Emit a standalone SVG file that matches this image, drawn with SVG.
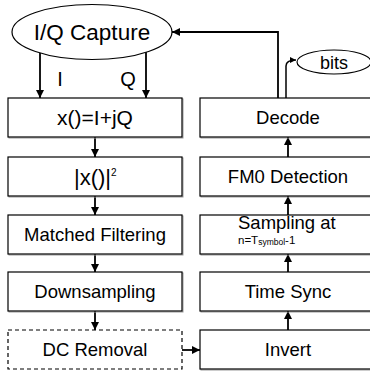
<svg xmlns="http://www.w3.org/2000/svg" width="370" height="372" viewBox="0 0 370 372">
<defs>
<marker id="ah" viewBox="0 0 10 10" refX="10" refY="5" markerWidth="4.5" markerHeight="4.5" orient="auto" markerUnits="strokeWidth">
<path d="M0,0 L10,5 L0,10 z" fill="#000"/>
</marker>
<marker id="ahs" viewBox="0 0 10 10" refX="10" refY="5" markerWidth="4" markerHeight="4" orient="auto" markerUnits="strokeWidth">
<path d="M0,0 L10,5 L0,10 z" fill="#000"/>
</marker>
</defs>
<style>
.box{fill:#fff;stroke:#000;stroke-width:1.2}
.sh{fill:none;stroke:#999;stroke-width:1}
.dash{fill:#fff;stroke:#000;stroke-width:1.2;stroke-dasharray:4,3}
.t{font-family:"Liberation Sans",Arial,sans-serif;font-size:18.5px;text-anchor:middle;fill:#000}
.f{font-family:"Liberation Sans",Arial,sans-serif;font-size:21px;text-anchor:middle;fill:#000}
.s{font-family:"Liberation Sans",Arial,sans-serif;text-anchor:start;fill:#000}
.c{fill:none;stroke:#000;stroke-width:1.8}
</style>
<rect width="370" height="372" fill="#fff"/>
<g id="connectors">
<line class="c" x1="40" y1="53" x2="40" y2="98" marker-end="url(#ah)"/>
<line class="c" x1="146" y1="52" x2="146" y2="98" marker-end="url(#ah)"/>
<line class="c" x1="95" y1="137" x2="95" y2="157" marker-end="url(#ah)"/>
<line class="c" x1="95" y1="196" x2="95" y2="215" marker-end="url(#ah)"/>
<line class="c" x1="95" y1="254" x2="95" y2="272" marker-end="url(#ah)"/>
<line class="c" x1="95" y1="311" x2="95" y2="330" marker-end="url(#ah)"/>
<line class="c" x1="182" y1="350" x2="200" y2="350" marker-end="url(#ah)"/>
<line class="c" x1="288" y1="330" x2="288" y2="311" marker-end="url(#ah)"/>
<line class="c" x1="288" y1="272" x2="288" y2="254" marker-end="url(#ah)"/>
<line class="c" x1="288" y1="215" x2="288" y2="196" marker-end="url(#ah)"/>
<line class="c" x1="288" y1="157" x2="288" y2="137" marker-end="url(#ah)"/>
<polyline class="c" points="278,99 278,32 172,32" marker-end="url(#ah)"/>
<path class="c" d="M286,99 V66 Q286,60 296,60" style="stroke-width:1.5" marker-end="url(#ahs)"/>
<text x="60" y="86" class="f" style="font-size:20px">I</text>
<text x="128" y="86" class="f" style="font-size:20px">Q</text>
</g>
<g id="iq-capture">
<ellipse cx="92" cy="32" rx="80" ry="27.5" fill="#fff" stroke="#000" stroke-width="1.2"/>
<text x="92" y="40" class="f" style="font-size:22.5px">I/Q Capture</text>
</g>
<g id="bits">
<ellipse cx="334" cy="62" rx="37" ry="12" fill="#fff" stroke="#000" stroke-width="1.2"/>
<text x="334" y="68.5" class="t" style="font-size:18px">bits</text>
</g>
<g id="xiq">
<rect class="sh" x="9" y="99" width="174" height="39"/>
<rect class="box" x="8" y="98" width="174" height="39"/>
<text x="95" y="125" class="f">x()=I+jQ</text>
</g>
<g id="abs2">
<rect class="sh" x="9" y="158" width="174" height="39"/>
<rect class="box" x="8" y="157" width="174" height="39"/>
<text x="74" y="185" class="s" style="font-size:22px">|x()|<tspan dy="-9" style="font-size:10px">2</tspan></text>
</g>
<g id="matched">
<rect class="sh" x="9" y="216" width="174" height="39"/>
<rect class="box" x="8" y="215" width="174" height="39"/>
<text x="95" y="241" class="t">Matched Filtering</text>
</g>
<g id="downsampling">
<rect class="sh" x="9" y="273" width="174" height="39"/>
<rect class="box" x="8" y="272" width="174" height="39"/>
<text x="95" y="298" class="t">Downsampling</text>
</g>
<g id="dcremoval">
<rect class="dash" x="8" y="330" width="174" height="39"/>
<text x="95" y="356" class="t">DC Removal</text>
</g>
<g id="decode">
<rect class="sh" x="201" y="99" width="174" height="39"/>
<rect class="box" x="200" y="98" width="174" height="39"/>
<text x="288" y="124" class="t">Decode</text>
</g>
<g id="fm0">
<rect class="sh" x="201" y="158" width="174" height="39"/>
<rect class="box" x="200" y="157" width="174" height="39"/>
<text x="288" y="183" class="t">FM0 Detection</text>
</g>
<g id="sampling">
<rect class="sh" x="201" y="216" width="174" height="39"/>
<rect class="box" x="200" y="215" width="174" height="39"/>
<text x="238" y="229" class="s" style="font-size:18.5px">Sampling at</text>
<text x="238" y="244" class="s" style="font-size:11.5px">n=T<tspan dy="1" style="font-size:8.5px">symbol</tspan><tspan dy="-1">-1</tspan></text>
</g>
<g id="timesync">
<rect class="sh" x="201" y="273" width="174" height="39"/>
<rect class="box" x="200" y="272" width="174" height="39"/>
<text x="288" y="298" class="t">Time Sync</text>
</g>
<g id="invert">
<rect class="sh" x="201" y="331" width="174" height="39"/>
<rect class="box" x="200" y="330" width="174" height="39"/>
<text x="288" y="356" class="t">Invert</text>
</g>
</svg>
